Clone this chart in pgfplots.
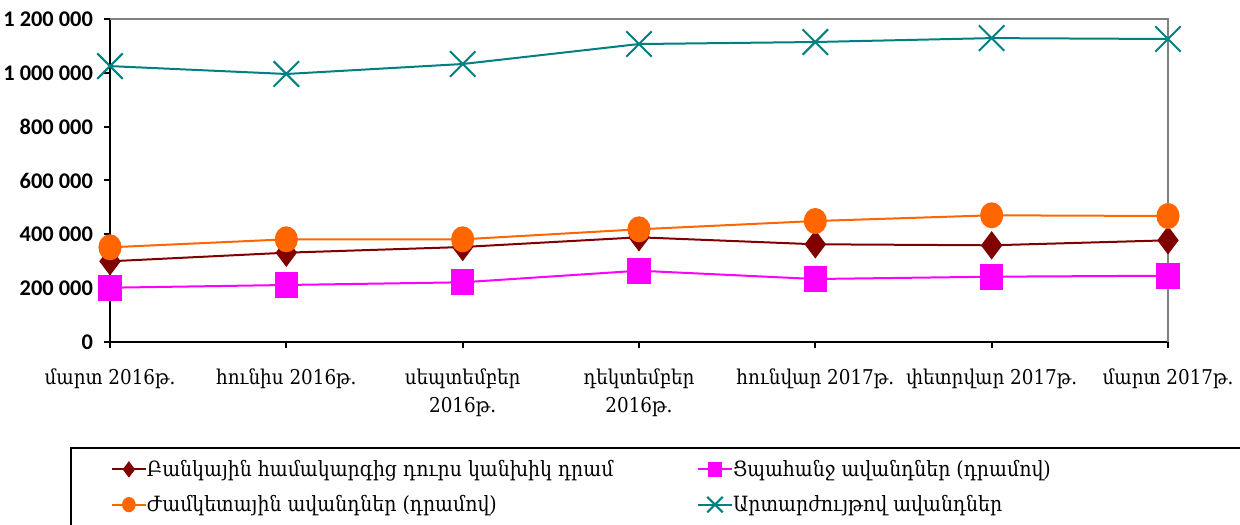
\documentclass[border=0pt]{standalone}
\usepackage{fontspec}
\usepackage{pgfplots}
\pgfplotsset{compat=1.18}
\setmainfont{DejaVu Serif}
\newfontfamily\dvc{DejaVu Serif Condensed}
\newfontfamily\carlito{Carlito}
\definecolor{cdred}{HTML}{800000}
\definecolor{cmag}{HTML}{FF00FF}
\definecolor{corange}{HTML}{FF6600}
\definecolor{cteal}{HTML}{008080}
\pgfplotsset{bigxlegend/.style={legend image code/.code={\draw[mark repeat=2,mark phase=2,##1,mark size=5.5pt] plot coordinates {(0cm,0cm) (0.3cm,0cm) (0.6cm,0cm)};}}}
\begin{document}
\begin{tikzpicture}
\begin{axis}[name=ax, scale only axis, width=529pt, height=161.5pt,
  xmin=0, xmax=6, ymin=0, ymax=1200000,
  axis x line*=bottom, axis y line*=left,
  axis line style={black, line width=1pt},
  xtick={0,1,2,3,4,5,6},
  xticklabels={մարտ 2016թ., հունիս 2016թ., սեպտեմբեր\\2016թ., դեկտեմբեր\\2016թ., հունվար 2017թ., փետրվար 2017թ., մարտ 2017թ.},
  xticklabel style={font=\dvc\fontsize{10.2}{14}\selectfont, align=center, yshift=-7pt},
  ytick={0,200000,400000,600000,800000,1000000,1200000},
  yticklabels={0,200 000,400 000,600 000,800 000,1 000 000,1 200 000},
  scaled y ticks=false,
  yticklabel style={font=\carlito\bfseries\fontsize{11.2}{13}\selectfont, xshift=-2pt},
  tick align=outside, major tick length=3pt, tick style={black, line width=1pt},
  clip=false,
  legend columns=2,
  legend cell align=left,
  legend image post style={mark size=3.3pt},
  legend style={at={(-0.0378,-0.325)}, anchor=north west, draw=black, line width=0.8pt,
    font=\dvc\fontsize{10.5}{11.5}\selectfont, inner xsep=20pt, inner ysep=4pt,
    nodes={inner xsep=0pt, inner ysep=2pt}, row sep=4pt},
]
\draw[gray, line width=1pt] (rel axis cs:0,1) -- (rel axis cs:1,1) -- (rel axis cs:1,0);
\addplot[cdred, line width=1pt, mark=diamond*, mark size=6.3pt, mark options={solid, fill=cdred}]
  coordinates {(0,299800) (1,331800) (2,352900) (3,389000) (4,363000) (5,359200) (6,377800)};
\addlegendentry{\makebox[275pt][l]{Բանկային համակարգից դուրս կանխիկ դրամ}}
\addplot[cmag, line width=1pt, mark=square*, mark size=6pt, mark options={solid, fill=cmag, xscale=0.9}]
  coordinates {(0,201700) (1,211800) (2,221800) (3,264900) (4,234000) (5,242600) (6,246300)};
\addlegendentry{\makebox[235pt][l]{Ցպահանջ ավանդներ (դրամով)}}
\addplot[corange, line width=1pt, mark=*, mark size=6pt, mark options={solid, fill=corange, xscale=0.88}]
  coordinates {(0,351800) (1,381500) (2,381500) (3,418700) (4,449500) (5,470700) (6,468100)};
\addlegendentry{\makebox[275pt][l]{Ժամկետային ավանդներ (դրամով)}}
\addplot[cteal, line width=1pt, mark=x, mark size=9pt, mark options={solid, line width=1pt}, bigxlegend]
  coordinates {(0,1025000) (1,995700) (2,1032800) (3,1107000) (4,1114500) (5,1129000) (6,1125700)};
\addlegendentry{\makebox[235pt][l]{Արտարժույթով ավանդներ}}
\end{axis}
\pgfresetboundingbox
\path[use as bounding box] ([xshift=-55pt,yshift=-91pt]ax.south west) rectangle ([xshift=36pt,yshift=9.5pt]ax.north east);
\end{tikzpicture}
\end{document}
